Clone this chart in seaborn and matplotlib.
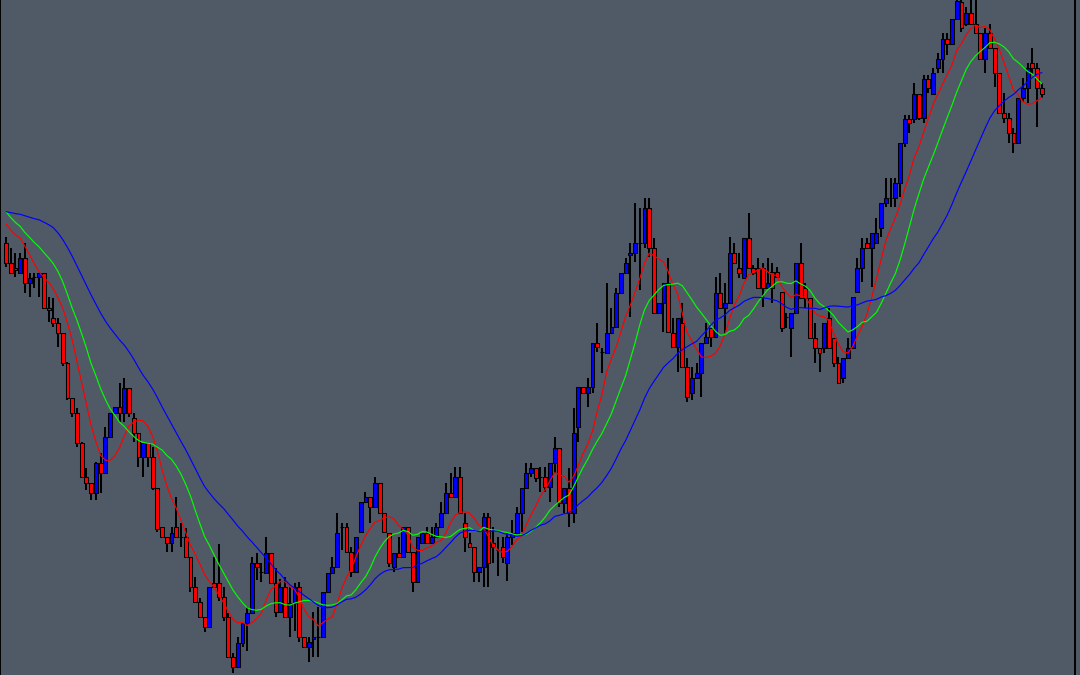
import numpy as np
import pandas as pd
import matplotlib
matplotlib.use("Agg")
import matplotlib.pyplot as plt
import seaborn as sns

# ---- data (price units) ----
# closes before the visible window (estimated from where the moving averages start)
prior_close = [455, 460, 464, 462, 468, 464, 460, 465, 462, 468,
               525, 535, 542, 548, 548,
               515, 505, 500, 510, 495, 500, 492,
               475, 470, 465, 485, 490, 495, 491]

open_ = [457, 437, 432, 427, 442, 417, 423, 423, 427, 392,
         382, 377, 367, 337, 302, 287, 257, 223, 217, 207,
         237, 227, 263, 287, 293, 287, 312, 282, 267, 243,
         257, 243, 212, 173, 163, 157, 173, 163, 163, 143,
         113, 98, 83, 73, 117, 117, 103, 83, 43, 33,
         57, 77, 87, 137, 128, 127, 147, 117, 88, 113,
         83, 97, 113, 63, 53, 61, 63, 63, 108, 127,
         133, 173, 173, 148, 128, 168, 198, 203, 193, 217,
         187, 167, 133, 147, 143, 173, 148, 118, 157, 167,
         157, 163, 173, 187, 207, 203, 223, 177, 157, 153,
         128, 133, 183, 157, 150, 153, 137, 163, 167, 187,
         212, 227, 232, 223, 223, 213, 237, 252, 197, 212,
         187, 273, 313, 307, 313, 357, 348, 347, 367, 373,
         407, 427, 445, 447, 457, 457, 492, 452, 387, 397,
         417, 367, 353, 377, 333, 307, 322, 327, 357, 372,
         363, 407, 392, 397, 447, 432, 422, 462, 432, 432,
         432, 412, 428, 428, 408, 383, 372, 387, 437, 412,
         402, 362, 352, 352, 382, 362, 337, 322, 342, 352,
         408, 432, 457, 452, 457, 472, 497, 502, 502, 517,
         557, 581, 581, 606, 582, 621, 606, 632, 641, 661,
         656, 681, 698, 676, 687, 676, 667, 641, 667, 652,
         627, 587, 582, 567, 557, 602, 612, 637, 632, 612]

high = [463, 452, 447, 447, 457, 427, 427, 427, 427, 403,
        402, 382, 367, 338, 302, 292, 258, 232, 217, 238,
        247, 273, 287, 293, 317, 322, 312, 287, 267, 257,
        257, 253, 212, 173, 163, 173, 203, 177, 172, 143,
        123, 102, 83, 113, 143, 156, 113, 87, 47, 63,
        77, 93, 143, 147, 137, 163, 147, 132, 121, 123,
        113, 117, 118, 63, 63, 88, 93, 108, 127, 143,
        187, 177, 177, 153, 163, 198, 208, 203, 223, 217,
        187, 167, 147, 163, 173, 173, 148, 163, 167, 173,
        173, 177, 198, 217, 227, 233, 233, 187, 167, 153,
        133, 187, 187, 173, 163, 163, 167, 180, 193, 212,
        237, 237, 232, 233, 233, 237, 263, 252, 212, 232,
        292, 313, 313, 322, 357, 377, 352, 417, 392, 412,
        427, 442, 457, 497, 492, 502, 502, 462, 397, 417,
        442, 382, 382, 397, 342, 333, 337, 357, 377, 372,
        423, 427, 417, 463, 457, 447, 462, 487, 435, 442,
        437, 442, 437, 433, 408, 387, 387, 437, 457, 417,
        402, 377, 352, 377, 392, 362, 343, 342, 362, 403,
        442, 462, 462, 467, 482, 497, 522, 522, 522, 557,
        585, 585, 617, 606, 625, 625, 632, 647, 667, 667,
        681, 706, 704, 693, 701, 701, 667, 672, 676, 652,
        627, 607, 587, 572, 602, 622, 637, 652, 637, 617]

low = [433, 426, 423, 427, 407, 403, 412, 403, 392, 378,
       373, 353, 334, 300, 283, 253, 222, 210, 200, 200,
       207, 227, 263, 286, 278, 278, 283, 258, 233, 223,
       233, 210, 168, 163, 148, 148, 163, 153, 143, 108,
       98, 82, 68, 73, 113, 99, 79, 43, 27, 32,
       53, 49, 87, 120, 118, 127, 117, 83, 88, 83,
       63, 69, 58, 52, 38, 43, 43, 63, 108, 127,
       133, 150, 148, 123, 128, 167, 198, 177, 193, 187,
       168, 133, 128, 143, 143, 148, 108, 118, 157, 157,
       157, 163, 173, 187, 203, 203, 187, 148, 153, 118,
       118, 113, 113, 137, 124, 137, 119, 155, 167, 168,
       212, 223, 218, 208, 208, 198, 227, 193, 187, 173,
       177, 258, 307, 293, 307, 348, 327, 347, 367, 373,
       407, 427, 383, 438, 410, 452, 443, 387, 387, 368,
       368, 353, 328, 333, 298, 300, 322, 303, 357, 353,
       363, 392, 367, 397, 437, 422, 422, 432, 425, 412,
       393, 412, 397, 423, 368, 372, 343, 387, 402, 392,
       362, 337, 328, 347, 352, 333, 317, 317, 342, 352,
       408, 418, 452, 413, 457, 463, 493, 493, 493, 503,
       553, 567, 577, 580, 577, 607, 606, 627, 627, 645,
       656, 681, 668, 674, 676, 667, 641, 627, 652, 613,
       587, 577, 557, 547, 557, 598, 597, 626, 573, 602]

close = [437, 427, 430, 442, 417, 422, 423, 427, 392, 390,
         377, 367, 337, 302, 287, 257, 223, 217, 207, 237,
         227, 263, 287, 293, 287, 312, 287, 267, 243, 257,
         243, 212, 171, 163, 157, 167, 163, 163, 143, 113,
         98, 83, 73, 113, 113, 103, 83, 43, 33, 57,
         77, 87, 137, 133, 128, 147, 117, 88, 113, 83,
         97, 113, 63, 53, 58, 63, 63, 108, 127, 133,
         167, 173, 148, 128, 163, 198, 203, 193, 217, 187,
         168, 137, 147, 143, 173, 148, 118, 163, 167, 157,
         163, 173, 187, 207, 203, 223, 187, 163, 153, 128,
         133, 183, 137, 153, 150, 143, 163, 167, 187, 212,
         227, 232, 222, 223, 213, 237, 252, 197, 212, 187,
         267, 313, 307, 313, 357, 353, 348, 367, 373, 407,
         427, 437, 447, 457, 457, 492, 452, 387, 397, 417,
         368, 353, 382, 333, 303, 322, 327, 357, 363, 363,
         407, 392, 397, 447, 437, 427, 462, 432, 427, 412,
         412, 417, 412, 423, 372, 383, 387, 437, 402, 402,
         362, 352, 347, 377, 352, 337, 317, 342, 352, 403,
         432, 452, 452, 467, 467, 497, 502, 502, 517, 557,
         581, 577, 606, 582, 621, 612, 627, 641, 661, 656,
         681, 699, 672, 687, 676, 667, 641, 667, 652, 627,
         587, 582, 567, 557, 602, 612, 632, 632, 612, 606]

ma_periods = {"fast": 8, "mid": 15, "slow": 30}
ma_colors = {"fast": "#ff0000", "mid": "#00ff00", "slow": "#0000ff"}

# ---- style ----
bg = "#505a66"
sns.set_style("dark", {"axes.facecolor": bg, "figure.facecolor": bg})

n = len(close)
idx = np.arange(n)
o = np.array(open_, float)
h = np.array(high, float)
l = np.array(low, float)
c = np.array(close, float)

full_close = pd.Series(prior_close + close, dtype=float)
ma_rows = []
for key, p in ma_periods.items():
    ma = full_close.rolling(p, min_periods=1).mean().to_numpy()[-n:]
    ma_rows.append(pd.DataFrame({"i": idx, "ma": ma, "name": key}))
ma_df = pd.concat(ma_rows, ignore_index=True)

W, H = 1080, 675
fig = plt.figure(figsize=(W / 100, H / 100), dpi=100)
ax_w = 1075 / W
ax = fig.add_axes([0, 0, ax_w, 1])
ax.set_facecolor(bg)

step = 4.73
x0 = -6 / step
ax.set_xlim(x0, x0 + 1075 / step)
ax.set_ylim(25, 700)

# wicks
ax.vlines(idx, l, h, color="#000000", linewidth=1.45, zorder=2)
# bodies
up = c >= o
body_col = np.where(up, "#0000ff", "#ff0000")
ax.bar(idx, c - o, bottom=o, width=0.82, color=body_col,
       edgecolor="#000000", linewidth=0.75, zorder=3)

sns.lineplot(data=ma_df, x="i", y="ma", hue="name", palette=ma_colors,
             linewidth=0.85, legend=False, ax=ax, zorder=4)

ax.set_xticks([])
ax.set_yticks([])
ax.set_xlabel("")
ax.set_ylabel("")
ax.grid(False)
for side in ["top", "bottom"]:
    ax.spines[side].set_visible(False)
for side in ["left", "right"]:
    ax.spines[side].set_visible(True)
    ax.spines[side].set_color("#000000")
ax.spines["left"].set_linewidth(1.4)
ax.spines["right"].set_linewidth(1.4)

fig.savefig("out.png", dpi=100, facecolor=bg)
